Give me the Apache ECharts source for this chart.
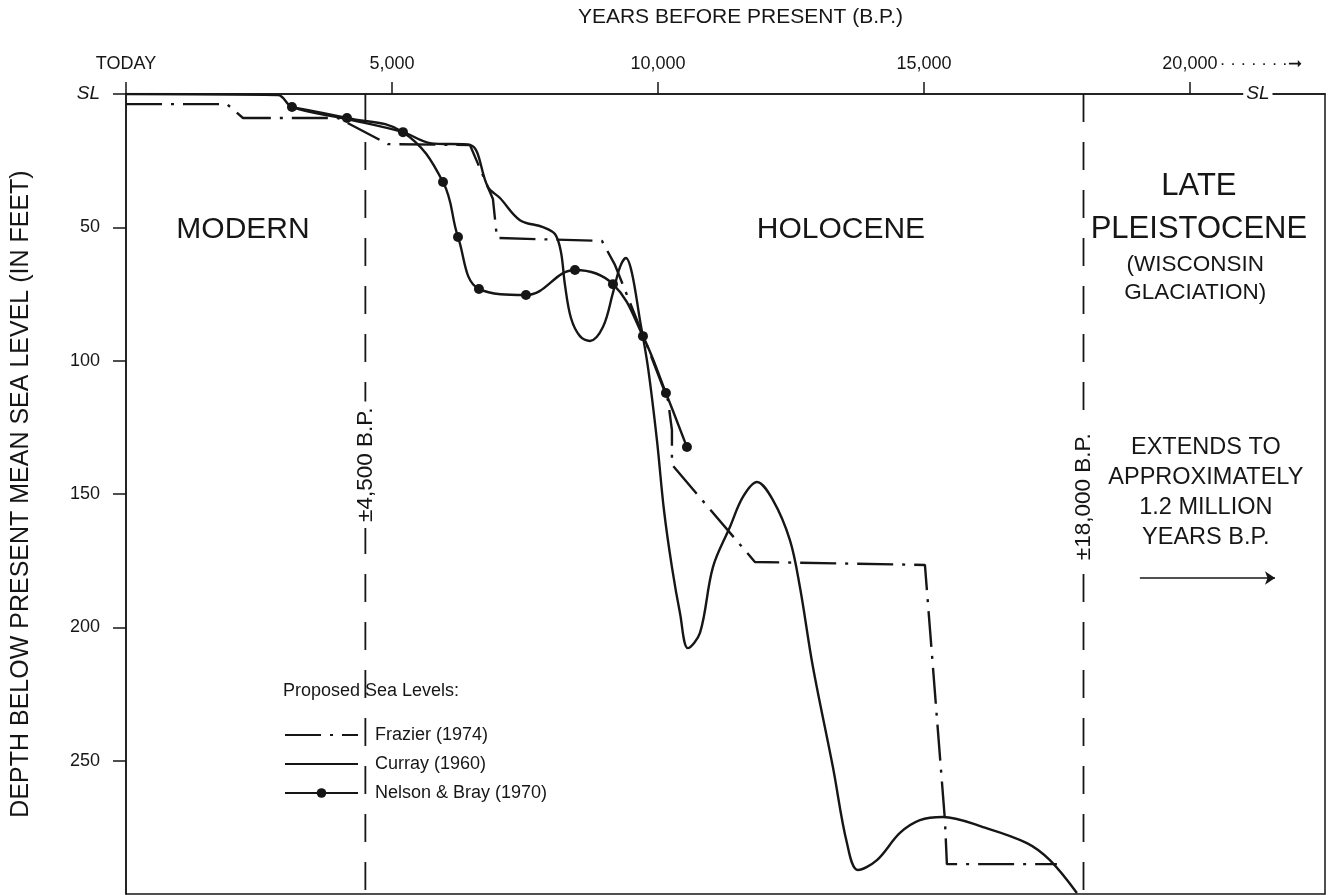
<!DOCTYPE html>
<html>
<head>
<meta charset="utf-8">
<script src="https://cdn.jsdelivr.net/npm/echarts@6/dist/echarts.min.js"></script>
<style>
html,body{margin:0;padding:0;background:#fff;}
#c{width:1332px;height:895px;}
</style>
</head>
<body>
<div id="c"></div>
<script>
// ---------- data (years before present, depth in feet) ----------
const xTickValues = [0, 5000, 10000, 15000, 20000];
const xTickLabels = ['TODAY', '5,000', '10,000', '15,000', '20,000'];
const yTickValues = [0, 50, 100, 150, 200, 250];
const yTickLabels = ['SL', '50', '100', '150', '200', '250'];

const frazierYears = [0, 1898, 2199, 3985, 4925, 6466, 6898, 6974, 8947, 9192, 9756, 10188, 10263, 10263, 11823, 15019, 15395, 15432, 17500];
const frazierDepth = [3.8, 3.8, 9, 9, 18.8, 19.1, 39.4, 54, 55.1, 64.1, 92.3, 114.8, 126, 139, 175.5, 176.6, 272.3, 288.8, 288.8];

const currayYears = [0, 2857, 3120, 4154, 5207, 5714, 6466, 6805, 7030, 7406, 7838, 8064, 8177, 8252, 8365, 8534, 8722, 8966, 9154, 9286, 9398, 9511, 9662, 9812, 9981, 10113, 10263, 10414, 10564, 10790, 11034, 11353, 11598, 11861, 12162, 12481, 12669, 12914, 13289, 13553, 13759, 14117, 14549, 14925, 15357, 16109, 16936, 17368, 17876];
const currayDepth = [0, 0.4, 4.9, 9.4, 14.3, 18.4, 19.1, 34.9, 39, 47.3, 49.9, 52.5, 59.3, 71.6, 84, 90.8, 92.6, 87.4, 74.6, 64.9, 61.5, 67.1, 84.8, 102.4, 129.8, 156, 177.4, 194.6, 207.8, 202.1, 177.4, 162.4, 151.1, 145.5, 152.3, 167.3, 184.9, 214.9, 252.4, 280.9, 291, 287.3, 277.1, 272.3, 271.1, 274.9, 280.9, 287.3, 299.6];

const nelsonYears = [3120, 4154, 5207, 5959, 6241, 6635, 7519, 8440, 9154, 9718, 10150, 10545];
const nelsonDepth = [4.9, 9.0, 14.3, 33.0, 53.6, 73.1, 75.4, 66.0, 71.3, 90.8, 112.1, 132.4];

const boundaryYears = [4500, 18000];
const boundaryLabels = ['±4,500 B.P.', '±18,000 B.P.'];

const seriesNames = ['Frazier (1974)', 'Curray (1960)', 'Nelson & Bray (1970)'];

// ---------- chart ----------
const FONT = '"Liberation Sans", Arial, sans-serif';
const INK = '#161616';
const X_MAX = 22540, Y_MAX = 300;
const zip = (xs, ys) => xs.map((x, i) => [x, ys[i]]);

function ann(text, x, y, fontSize, extra) {
  return {
    value: [x, y],
    label: Object.assign({
      show: true, position: 'inside', formatter: text, fontSize: fontSize,
      color: INK, fontFamily: FONT, align: 'center', verticalAlign: 'middle', opacity: 1
    }, extra || {})
  };
}

const annotations = [
  ann('MODERN', 2200, 51, 30),
  ann('HOLOCENE', 13440, 51, 30),
  ann('LATE\nPLEISTOCENE', 20170, 42.9, 31, {lineHeight: 43}),
  ann('(WISCONSIN\nGLACIATION)', 20100, 69.4, 22.5, {lineHeight: 28}),
  ann('EXTENDS TO\nAPPROXIMATELY\n1.2 MILLION\nYEARS B.P.', 20300, 149.4, 23.5, {lineHeight: 30}),
  ann(boundaryLabels[0], boundaryYears[0], 139, 22.5, {rotate: 90, backgroundColor: '#fff', padding: [3, 6]}),
  ann(boundaryLabels[1], boundaryYears[1], 151, 22.5, {rotate: 90, backgroundColor: '#fff', padding: [3, 6]}),
  ann('SL', 21278, 0, 19, {fontStyle: 'italic', backgroundColor: '#fff', padding: [0, 3]})
];

const chart = echarts.init(document.getElementById('c'), null, {renderer: 'canvas'});

const lineBase = {color: INK, width: 2.4};
const hiddenSymbol = {color: 'rgba(0,0,0,0)', borderWidth: 0, opacity: 0};

const option = {
  animation: false,
  backgroundColor: '#fff',
  textStyle: {fontFamily: FONT, color: INK},
  title: {
    text: 'Proposed Sea Levels:', left: 278, top: 677,
    textStyle: {fontSize: 18, fontWeight: 'normal', color: INK, fontFamily: FONT}
  },
  legend: {
    orient: 'vertical', left: 279, top: 721,
    itemWidth: 73, itemHeight: 12, itemGap: 11,
    textStyle: {fontSize: 18, color: INK, fontFamily: FONT, padding: [0, 0, 0, 12]},
    data: [
      {name: seriesNames[0], itemStyle: hiddenSymbol},
      {name: seriesNames[1], itemStyle: hiddenSymbol},
      {name: seriesNames[2]}
    ]
  },
  grid: {
    left: 126, top: 94, width: 1199, height: 800,
    containLabel: false, outerBoundsMode: 'none',
    show: true, borderColor: INK, borderWidth: 1.5
  },
  xAxis: {
    type: 'value', position: 'top', min: 0, max: X_MAX, interval: 5000,
    name: 'YEARS BEFORE PRESENT (B.P.)', nameLocation: 'middle', nameGap: 66,
    nameTextStyle: {fontSize: 21, color: INK, fontFamily: FONT, padding: [0, 0, 0, 30]},
    axisLine: {show: true, lineStyle: {color: INK, width: 1.5}},
    axisTick: {show: true, inside: false, length: 12, customValues: xTickValues, lineStyle: {color: INK, width: 1.5}},
    axisLabel: {
      customValues: xTickValues, margin: 21, fontSize: 18, color: INK, fontFamily: FONT,
      formatter: function (v) {
        const i = xTickValues.indexOf(v);
        if (i < 0) return '';
        if (i === xTickValues.length - 1) return '{pad|}' + xTickLabels[i] + '{arr| · · · · · · ·➞}';
        return xTickLabels[i];
      },
      rich: {
        pad: {width: 82, fontSize: 18},
        arr: {width: 82, align: 'left', fontSize: 17, color: INK}
      }
    },
    splitLine: {show: false}
  },
  yAxis: {
    type: 'value', inverse: true, min: 0, max: Y_MAX, interval: 50,
    name: 'DEPTH BELOW PRESENT MEAN SEA LEVEL (IN FEET)', nameLocation: 'middle', nameGap: 92,
    nameTextStyle: {fontSize: 25, color: INK, fontFamily: FONT},
    axisLine: {show: true, lineStyle: {color: INK, width: 1.5}},
    axisTick: {show: true, inside: false, length: 13, customValues: yTickValues, lineStyle: {color: INK, width: 1.5}},
    axisLabel: {
      customValues: yTickValues, margin: 26, fontSize: 18, color: INK, fontFamily: FONT,
      formatter: function (v) {
        const i = yTickValues.indexOf(v);
        if (i < 0) return '';
        return i === 0 ? '{sl|' + yTickLabels[i] + '}' : yTickLabels[i];
      },
      rich: {sl: {fontStyle: 'italic', fontSize: 19, color: INK}}
    },
    splitLine: {show: false}
  },
  series: [
    {
      name: seriesNames[0], type: 'line', data: zip(frazierYears, frazierDepth),
      symbol: 'none', lineStyle: Object.assign({}, lineBase, {type: [36, 9, 3, 9]}),
      itemStyle: {color: INK}, z: 3
    },
    {
      name: seriesNames[1], type: 'line', data: zip(currayYears, currayDepth),
      symbol: 'none', smooth: 0.35, lineStyle: lineBase, itemStyle: {color: INK}, z: 3
    },
    {
      name: seriesNames[2], type: 'line', data: zip(nelsonYears, nelsonDepth),
      symbol: 'circle', symbolSize: 10, smooth: 0.4, lineStyle: lineBase,
      itemStyle: {color: INK}, z: 4
    },
    {
      name: 'boundary-a', type: 'line', data: [[boundaryYears[0], 0], [boundaryYears[0], Y_MAX]],
      symbol: 'none', lineStyle: {color: INK, width: 1.8, type: [28, 20]}, z: 2, silent: true
    },
    {
      name: 'boundary-b', type: 'line', data: [[boundaryYears[1], 0], [boundaryYears[1], Y_MAX]],
      symbol: 'none', lineStyle: {color: INK, width: 1.8, type: [28, 20]}, z: 2, silent: true
    },
    {
      name: 'notes', type: 'scatter', data: annotations, symbolSize: 0, clip: false, z: 6, silent: true,
      itemStyle: {opacity: 1, color: '#fff'},
      markLine: {
        silent: true, symbol: ['none', 'arrow'], symbolSize: 10,
        lineStyle: {type: 'solid', color: INK, width: 1.5, opacity: 1},
        itemStyle: {color: INK, opacity: 1},
        label: {show: false},
        data: [[{coord: [19060, 181.5]}, {coord: [21600, 181.5]}]]
      }
    }
  ]
};

chart.setOption(option);
</script>
</body>
</html>
